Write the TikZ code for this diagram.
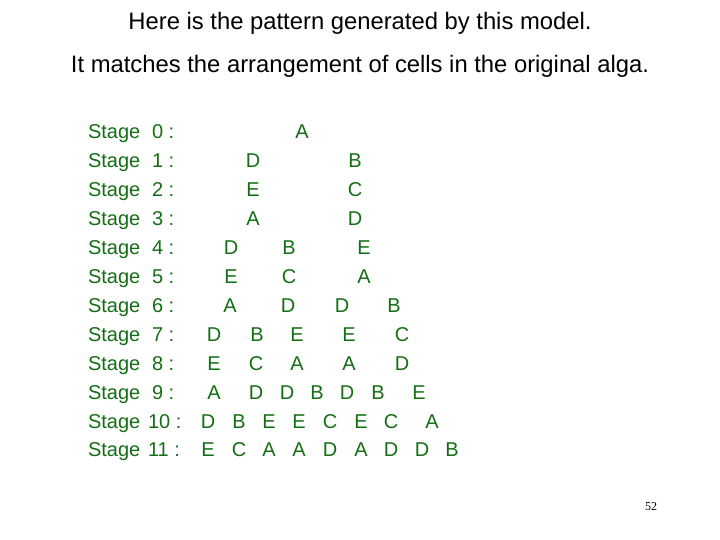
\documentclass[tikz,border=0pt]{standalone}
\usepackage{fontspec}
\setmainfont{Liberation Sans}
\newfontfamily\numfont{Liberation Serif}
\definecolor{cellgreen}{RGB}{20,110,20}
\begin{document}
\begin{tikzpicture}[x=1pt,y=-1pt,
  every node/.style={inner sep=0pt,outer sep=0pt},
  title/.style={font=\fontsize{23.8}{28}\selectfont,text=black,anchor=base},
  stagelbl/.style={font=\fontsize{20}{24}\selectfont,text=cellgreen,anchor=base west},
  cell/.style={font=\fontsize{20}{24}\selectfont,text=cellgreen,anchor=base}]
\useasboundingbox (0,0) rectangle (720,540);
\node[title] (t1) at (360,30) {Here is the pattern generated by this model.};
\node[title] (t2) at (360,73) {It matches the arrangement of cells in the original alga.};
% stage labels
\foreach \i in {0,...,11}{
  \pgfmathsetmacro{\yy}{139+28.9*\i}
  \node[stagelbl] (s\i) at (88,\yy) {Stage};
}
\foreach \i in {0,...,9}{
  \pgfmathsetmacro{\yy}{139+28.9*\i}
  \node[stagelbl] (n\i) at (152,\yy) {\i\ :};
}
\node[stagelbl] (n10) at (148,{139+28.9*10}) {10 :};
\node[stagelbl] (n11) at (148,{139+28.9*11}) {11 :};
% cells
\newcommand{\cellrow}[2]{%
  \foreach \xx/\ll [count=\k] in {#2}{
    \node[cell] (c#1-\k) at (\xx,{139+28.9*#1}) {\ll};
  }}
\cellrow{0}{302/A}
\cellrow{1}{253/D,355/B}
\cellrow{2}{253/E,355/C}
\cellrow{3}{253/A,355/D}
\cellrow{4}{231/D,289/B,364/E}
\cellrow{5}{231/E,289/C,364/A}
\cellrow{6}{230/A,288/D,342/D,394/B}
\cellrow{7}{214/D,257/B,297/E,349/E,402/C}
\cellrow{8}{214/E,256/C,297/A,349/A,402/D}
\cellrow{9}{214/A,256/D,287/D,317/B,347/D,378/B,419/E}
\cellrow{10}{208/D,239/B,269/E,299/E,330/C,361/E,391/C,432/A}
\cellrow{11}{208/E,239/C,269/A,299/A,330/D,361/A,391/D,422/D,452/B}
\node[font=\numfont\fontsize{12}{14}\selectfont,anchor=base] (pg) at (651,510) {52};
\end{tikzpicture}
\end{document}
